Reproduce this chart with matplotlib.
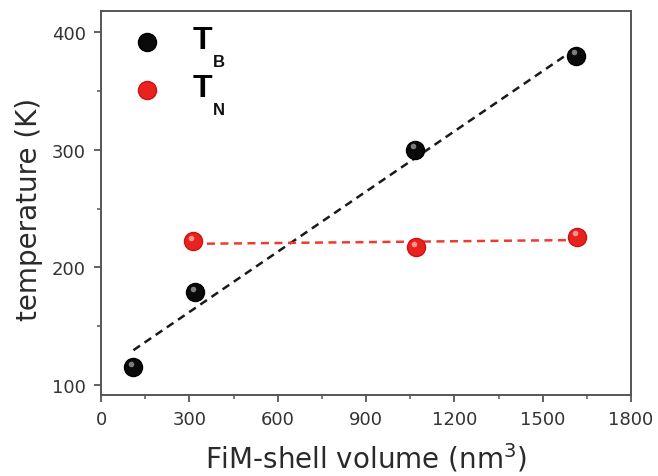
import numpy as np
import matplotlib
matplotlib.use("Agg")
import matplotlib.pyplot as plt
from matplotlib.transforms import ScaledTranslation
from matplotlib.ticker import MultipleLocator

plt.rcParams['font.family'] = ['DejaVu Sans']

# data
vol_tb = [110, 318, 1068, 1614]
temp_tb = [115, 179, 300, 380]
vol_tn = [314, 1070, 1617]
temp_tn = [222, 217, 226]

series_names = ['T', 'T']
series_subs = ['B', 'N']

x_ticks = [0, 300, 600, 900, 1200, 1500, 1800]
y_ticks = [100, 200, 300, 400]

black = '#0a0a0a'
red = '#e8231f'
spine_col = '#555555'

fig = plt.figure(figsize=(6.58, 4.77), dpi=100)
ax = fig.add_axes([0.1535, 0.170, 0.8055, 0.805])

# linear fits (dashed)
fit_b = np.polyfit(vol_tb, temp_tb, 1)
xb = np.array([vol_tb[0], vol_tb[-1]])
ax.plot(xb, np.polyval(fit_b, xb), color='#1a1a1a', lw=1.8,
        dashes=(3.2, 2.2), zorder=2)
fit_n = np.polyfit(vol_tn, temp_tn, 1)
xn = np.array([vol_tn[0], vol_tn[-1]])
ax.plot(xn, np.polyval(fit_n, xn), color='#ee3b30', lw=1.8,
        dashes=(3.2, 2.2), zorder=2)

# sphere-like markers: body + small highlight
hl = ax.transData + ScaledTranslation(-1.5 / 72, 2.5 / 72, fig.dpi_scale_trans)
ax.plot(vol_tb, temp_tb, 'o', ms=13, color=black, mec='#000000', zorder=3,
        label=series_names[0])
ax.plot(vol_tb, temp_tb, 'o', ms=4, color='#9a9a9a', mec='none',
        alpha=0.8, transform=hl, zorder=4)
ax.plot(vol_tn, temp_tn, 'o', ms=13, color=red, mec='#d01010', zorder=3,
        label=series_names[1])
ax.plot(vol_tn, temp_tn, 'o', ms=4, color='#ffb0a8', mec='none',
        alpha=0.8, transform=hl, zorder=4)

ax.set_xlim(0, 1800)
ax.set_ylim(91.5, 418)
ax.set_xticks(x_ticks)
ax.set_yticks(y_ticks)
ax.xaxis.set_minor_locator(MultipleLocator(150))
ax.yaxis.set_minor_locator(MultipleLocator(50))
ax.tick_params(which='major', direction='out', length=5, width=1.3,
               color=spine_col, labelsize=13, labelcolor='#333333', pad=6)
ax.tick_params(which='minor', direction='out', length=3, width=1.1,
               color=spine_col)
for s in ax.spines.values():
    s.set_color(spine_col)
    s.set_linewidth(1.4)

ax.set_xlabel(r'FiM-shell volume (nm$^3$)', fontsize=20, color='#2a2a2a')
ax.xaxis.set_label_coords(0.5, -0.12)
ax.set_ylabel('temperature (K)', fontsize=20, color='#2a2a2a')
ax.yaxis.set_label_coords(-0.11, 0.485)

leg = ax.legend(loc='upper left', frameon=False,
                prop={'family': 'Liberation Sans', 'size': 23,
                      'weight': 'bold'},
                handletextpad=0.85, labelspacing=0.56, borderaxespad=0,
                borderpad=0, handlelength=1.2, bbox_to_anchor=(0.05, 0.95))
# lift legend "T" a little relative to its marker, then hang the subscripts
lift = ScaledTranslation(0, 0.05, fig.dpi_scale_trans)
for txt, sub in zip(leg.get_texts(), series_subs):
    txt.set_transform(txt.get_transform() + lift)
    ax.annotate(sub, xy=(1, 0), xycoords=txt, xytext=(0, 1),
                textcoords='offset points', fontsize=12, fontweight='bold',
                family='Liberation Sans', va='top', ha='left',
                color='#111111', zorder=10)

fig.savefig('out.png', dpi=100)
